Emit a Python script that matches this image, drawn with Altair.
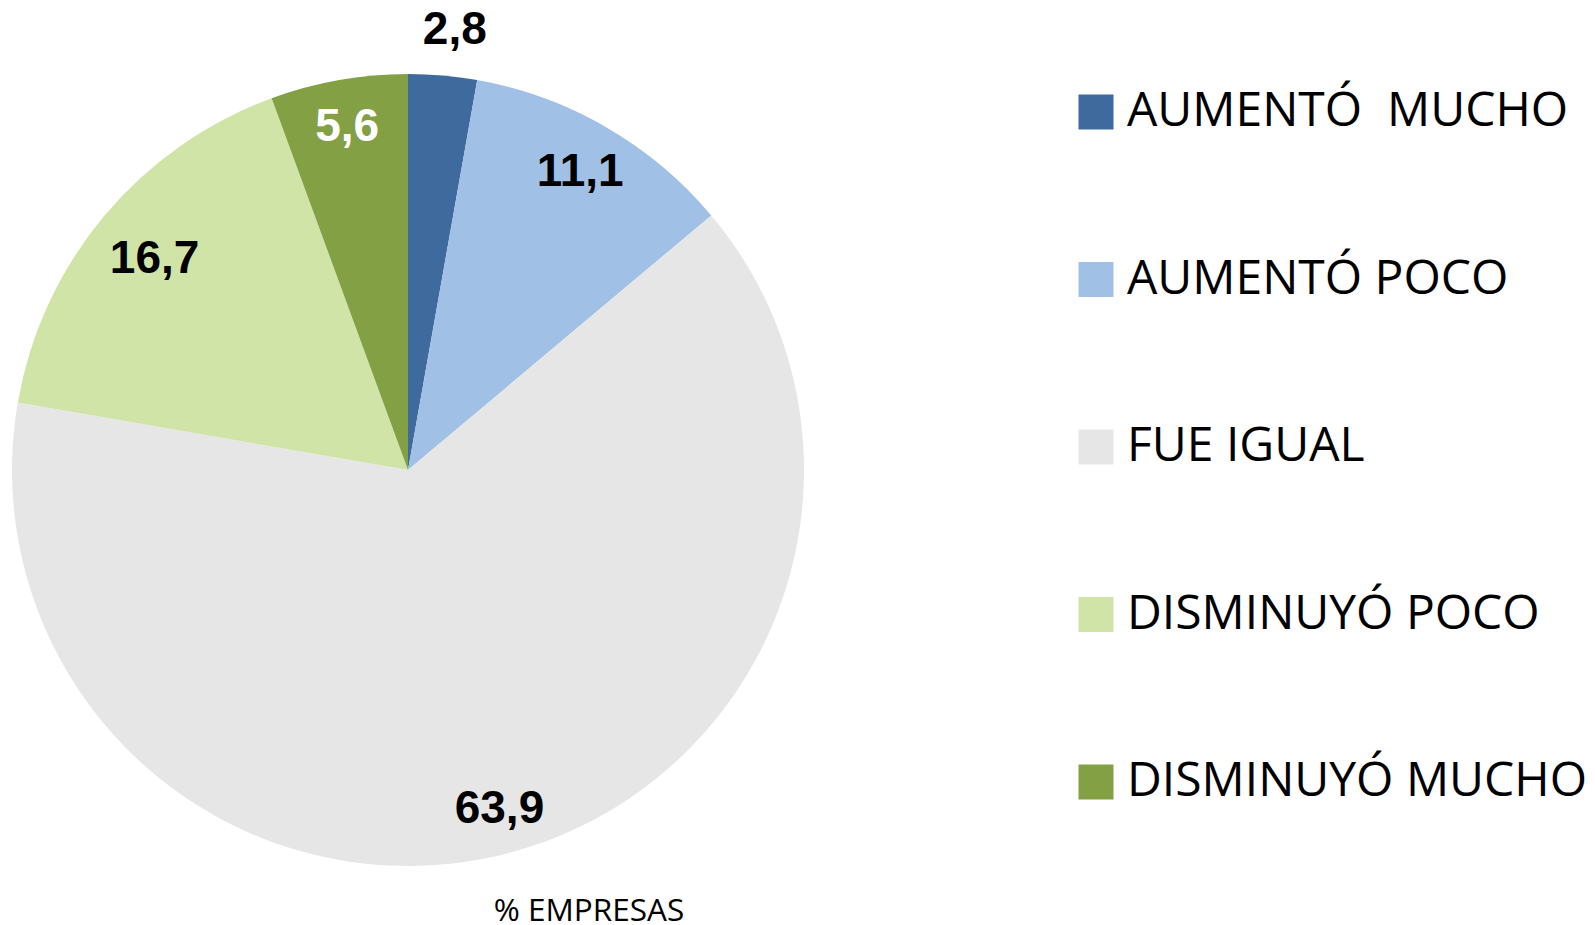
import altair as alt
import pandas as pd

categories = ["AUMENTÓ \u00a0MUCHO", "AUMENTÓ POCO", "FUE IGUAL", "DISMINUYÓ POCO", "DISMINUYÓ MUCHO"]
values = [2.8, 11.1, 63.9, 16.7, 5.6]
value_labels = ["2,8", "11,1", "63,9", "16,7", "5,6"]
colors = ["#3E6A9D", "#A1C0E5", "#E6E6E6", "#D1E4A8", "#83A045"]
label_colors = ["black", "black", "black", "black", "white"]
title_text = "% EMPRESAS"

df = pd.DataFrame({
    "cat": categories,
    "val": values,
    "lab": value_labels,
    "idx": list(range(len(categories))),
    "tc": label_colors,
})

CX, CY = 400, 462

base = alt.Chart(df).encode(
    theta=alt.Theta("val:Q", stack=True),
    order=alt.Order("idx:Q"),
    x=alt.value(CX),
    y=alt.value(CY),
)

pie = base.mark_arc(outerRadius=396).encode(
    color=alt.Color(
        "cat:N",
        scale=alt.Scale(domain=categories, range=colors),
        sort=categories,
        legend=alt.Legend(
            title=None,
            orient="none",
            legendX=1064,
            legendY=80,
            symbolType="square",
            symbolSize=1225,
            symbolStrokeWidth=0,
            labelFont="Open Sans",
            labelFontSize=48,
            labelColor="black",
            labelOffset=7,
            labelLimit=0,
            rowPadding=119.5,
            padding=0,
        ),
    ),
)

# label placement (style only): slice index -> (radius, dx)
label_place = {0: (442, 8), 1: (344, 0), 2: (351, 0), 3: (330, 0), 4: (348, 0)}


def label_layer(i, radius, dx):
    return base.transform_calculate(
        t=f"datum.idx == {i} ? datum.lab : ''"
    ).mark_text(
        font="Liberation Sans", fontWeight="bold", fontSize=46,
        baseline="middle", radius=radius, dx=dx,
    ).encode(
        text="t:N",
        detail="cat:N",
        color=alt.Color("tc:N", scale=None),
    )


labels = [label_layer(i, r, d) for i, (r, d) in label_place.items()]

title = alt.Chart(pd.DataFrame({"t": [title_text]})).mark_text(
    font="Open Sans", fontSize=31.5, baseline="alphabetic", color="black"
).encode(text="t:N", x=alt.value(581), y=alt.value(913))

chart = alt.layer(pie, *labels, title).properties(
    width=1579, height=922, padding=0,
    autosize=alt.AutoSizeParams(type="none"),
).configure_view(stroke=None)

chart.save("out.html", embed_options={"renderer": "svg", "actions": False})
